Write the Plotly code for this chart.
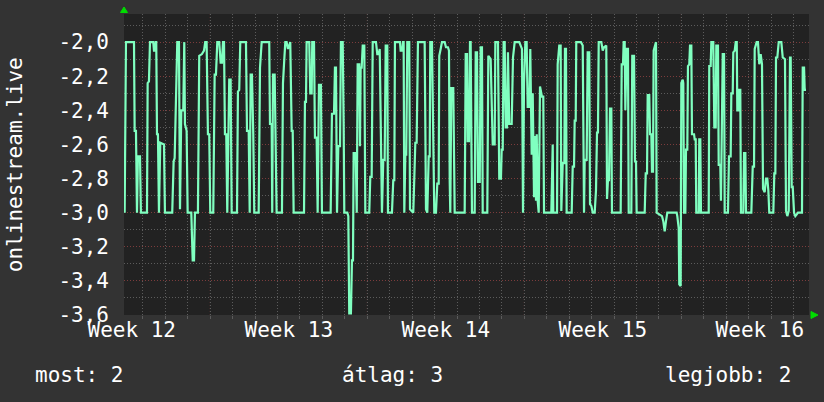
import plotly.graph_objects as go

# time in hours relative to Monday 00:00 of week 13; value of the series
week12_hours = [-91.6, -90.2, -81.6, -80.9, -79.5, -78.4, -77.4, -75.2, -74.2, -67.7, -67.0, -65.6, -64.5,
                -61.0, -60.2, -59.2, -58.4, -57.8, -57.0, -56.0, -54.9, -53.5, -49.5, -48.5, -40.7, -39.2,
                -38.1, -36.4, -35.3, -33.5, -32.4, -31.0, -28.9, -27.8, -27.1, -25.3, -24.2, -20.3, -18.8,
                -17.4, -16.4, -13.2, -11.8, -8.9, -6.7, -5.4, -3.9, -2.5, -1.1]
week12_values = [-3.0, -2.0, -2.0, -2.52, -2.52, -3.0, -2.67, -2.67, -3.0, -3.0, -2.24, -2.23, -2.0,
                 -2.0, -2.05, -2.05, -2.0, -2.0, -2.54, -2.54, -3.0, -2.59, -2.6, -3.0, -3.0, -2.7,
                 -2.68, -2.22, -2.0, -2.0, -2.98, -2.4, -2.4, -2.0, -2.48, -2.52, -3.0, -3.0, -3.28,
                 -3.28, -3.0, -3.0, -2.08, -2.07, -2.05, -2.0, -2.0, -2.54, -2.54]

week13_hours = [0.0, 3.2, 4.7, 6.1, 7.5, 9.6, 11.1, 12.5, 13.6, 14.7, 15.7, 17.1, 18.2, 20.3, 21.8, 22.9,
                28.6, 29.6, 31.0, 32.1, 38.2, 39.3, 41.1, 42.2, 43.2, 44.6, 46.0, 47.1, 51.8, 53.2, 55.0,
                63.1, 63.9, 65.7, 66.3, 67.1, 68.9, 70.0, 71.0, 76.7, 77.8, 79.2, 80.3, 81.7, 83.1, 84.5,
                85.6, 87.1, 88.2, 89.2, 100.3, 101.3, 102.4, 103.1, 105.9, 107.0, 108.5, 109.1, 111.0,
                112.0, 113.8, 114.9, 116.3, 118.4, 119.5, 128.8, 130.2, 132.4, 133.4, 134.5, 135.6,
                137.0, 138.8, 139.8, 141.7, 142.7, 143.4, 146.6, 147.7, 148.7, 150.5, 151.6, 152.7,
                153.4, 155.6, 156.7, 157.7, 159.4, 160.2, 160.9, 162.0, 163.1, 164.8, 165.9]
week13_values = [-3.0, -3.0, -2.19, -2.19, -2.0, -2.0, -2.12, -2.12, -2.0, -2.0, -2.54, -2.54, -3.0, -2.22,
                 -2.22, -3.0, -3.0, -2.29, -2.28, -2.0, -2.0, -2.52, -2.52, -3.0, -2.19, -2.19, -2.54,
                 -3.0, -3.0, -2.15, -2.0, -2.0, -2.48, -2.48, -3.0, -2.19, -2.19, -2.52, -3.0, -3.0,
                 -2.24, -2.1, -2.0, -2.0, -2.04, -2.02, -2.0, -2.52, -2.52, -3.0, -3.0, -2.35, -2.35,
                 -2.0, -2.0, -2.3, -2.3, -2.0, -2.0, -2.56, -2.56, -3.0, -2.25, -2.25, -3.0, -3.0,
                 -2.42, -2.42, -2.15, -2.15, -3.0, -2.61, -2.61, -2.0, -2.0, -2.47, -3.0, -3.0, -3.02,
                 -3.59, -3.59, -3.28, -3.28, -2.65, -2.65, -3.0, -2.13, -2.13, -2.61, -2.15, -2.15,
                 -2.02, -2.02, -3.0]

week14_hours = [170.1, 171.2, 172.7, 173.8, 177.3, 178.7, 180.2, 181.3, 182.6, 183.7, 185.1, 186.6, 187.7,
                189.4, 190.1, 194.4, 195.8, 196.9, 197.6, 203.0, 203.7, 205.4, 206.2, 206.9, 207.6,
                208.7, 209.7, 210.8, 212.9, 213.7, 217.2, 219.4, 220.8, 222.2, 229.4, 230.8, 232.2,
                233.7, 234.8, 235.4, 237.2, 238.6, 239.7, 241.5, 242.9, 244.4, 245.0, 246.5, 247.9,
                250.8, 252.2, 254.3, 255.4, 256.2, 256.8, 257.9, 260.0, 261.5, 272.2, 273.3, 274.7,
                275.4, 276.8, 277.9, 278.6, 280.0, 282.9, 284.0, 285.4, 286.4, 288.3, 289.3, 290.7,
                291.5, 296.4, 297.5, 300.0, 302.2, 304.3, 305.0, 307.8, 309.2, 311.0, 311.8, 312.9,
                313.9, 315.0, 316.1, 317.5, 318.5, 319.9, 322.5, 323.9, 325.7, 330.6, 333.5, 334.6,
                335.7]
week14_values = [-3.0, -2.79, -2.79, -2.0, -2.0, -2.07, -2.07, -2.04, -2.69, -3.0, -2.69, -2.69, -2.02,
                 -2.02, -3.0, -3.0, -2.81, -2.81, -2.0, -2.0, -2.05, -2.05, -2.0, -2.0, -3.0, -2.66,
                 -2.66, -2.0, -2.0, -2.98, -3.0, -2.59, -2.59, -2.0, -2.0, -2.98, -3.0, -2.67, -2.67,
                 -2.0, -2.0, -2.8, -3.0, -3.0, -2.83, -2.83, -2.08, -2.04, -2.0, -2.0, -2.03, -2.03,
                 -2.05, -2.82, -3.0, -2.27, -2.27, -3.0, -3.0, -2.07, -2.07, -2.58, -2.58, -2.0, -2.0,
                 -3.0, -3.0, -2.06, -2.06, -2.82, -2.82, -2.03, -2.03, -3.0, -3.0, -2.08, -2.1, -2.6,
                 -2.6, -2.0, -2.0, -2.8, -2.8, -2.63, -2.63, -2.0, -2.0, -2.5, -2.5, -2.06, -2.48,
                 -2.48, -2.09, -2.0, -2.0, -2.04, -3.0, -2.24]

week15_hours = [337.1, 338.5, 339.6, 341.3, 342.4, 343.9, 345.0, 346.4, 347.8, 348.5, 349.3, 350.3, 351.4,
                352.8, 354.9, 356.3, 357.1, 364.9, 366.4, 367.0, 371.0, 371.7, 373.4, 374.9, 375.6,
                377.1, 378.8, 379.5, 380.6, 381.3, 386.7, 387.8, 389.2, 389.9, 391.0, 391.6, 396.6,
                398.5, 399.9, 400.6, 402.7, 403.8, 405.5, 406.3, 407.7, 409.2, 411.3, 412.7, 413.8,
                414.8, 415.6, 418.4, 419.9, 421.3, 422.7, 423.7, 424.5, 425.5, 426.6, 427.7, 429.1,
                429.8, 439.1, 440.2, 441.6, 442.3, 443.4, 444.1, 445.5, 446.9, 447.7, 450.5, 451.5,
                453.4, 454.4, 455.5, 456.2, 464.8, 465.9, 467.3, 468.0, 469.7, 470.5, 471.9, 472.6,
                473.7, 474.4, 475.8, 476.9, 477.6, 481.2, 483.3, 484.7, 486.2, 487.6, 489.0, 498.3,
                499.0, 499.7, 501.2, 501.8, 503.3]
week15_values = [-2.0, -2.0, -2.38, -2.38, -2.04, -2.66, -2.3, -2.91, -2.55, -2.93, -2.54, -2.93, -3.0,
                 -2.26, -2.32, -2.32, -3.0, -3.0, -2.6, -3.0, -3.0, -2.13, -2.02, -2.02, -2.99, -2.71,
                 -2.71, -2.04, -2.04, -3.0, -3.0, -2.73, -2.73, -2.46, -2.46, -2.0, -2.0, -2.02, -3.0,
                 -2.69, -2.69, -2.06, -2.06, -2.95, -2.96, -3.0, -3.0, -2.87, -2.53, -2.53, -2.0, -2.0,
                 -2.05, -2.03, -2.02, -2.02, -2.92, -2.81, -2.81, -2.39, -2.39, -3.0, -3.0, -2.13,
                 -2.13, -2.0, -2.0, -2.4, -2.04, -2.04, -3.0, -3.0, -2.08, -2.08, -2.7, -2.7, -3.0,
                 -3.0, -2.77, -2.77, -2.31, -2.31, -2.54, -2.54, -2.76, -2.76, -2.05, -2.02, -2.0,
                 -3.0, -3.01, -3.02, -3.05, -3.11, -3.05, -3.0, -3.0, -3.0, -3.02, -3.09, -3.42, -3.43]

week16_hours = [504.0, 505.5, 506.1, 506.9, 508.3, 509.0, 510.4, 511.1, 512.5, 513.3, 514.7, 515.4, 517.6,
                518.3, 519.4, 520.0, 522.6, 523.2, 524.3, 525.0, 533.3, 533.9, 535.4, 536.1, 538.2,
                539.3, 540.8, 541.4, 543.2, 544.0, 545.7, 546.4, 548.3, 549.7, 550.4, 553.9, 555.0,
                556.8, 557.5, 559.0, 559.6, 561.1, 562.2, 563.3, 563.9, 565.4, 566.0, 567.1, 567.8,
                570.3, 571.1, 572.5, 573.2, 578.9, 580.4, 581.8, 582.5, 584.6, 586.0, 587.4, 588.9,
                590.3, 591.4, 593.2, 594.6, 596.0, 597.1, 598.1, 602.4, 603.5, 604.6, 605.3, 606.7,
                608.2, 611.0, 612.5, 614.9, 616.0, 617.4, 618.9, 620.3, 621.0, 622.1, 623.2, 624.6,
                626.0, 627.5, 628.8, 633.1, 633.9, 635.3, 636.0, 637.4]
week16_values = [-2.24, -2.22, -2.24, -3.0, -3.0, -2.63, -2.63, -2.14, -2.13, -2.02, -2.02, -2.54, -2.54,
                 -2.57, -2.57, -3.0, -3.0, -2.57, -2.57, -3.0, -3.0, -2.14, -2.14, -2.0, -2.0, -2.5,
                 -2.5, -2.02, -2.02, -2.72, -2.72, -2.93, -2.07, -2.07, -3.0, -3.0, -2.67, -2.67, -2.3,
                 -2.3, -2.06, -2.05, -2.0, -2.0, -2.4, -2.4, -2.28, -2.28, -3.0, -3.0, -2.65, -2.65,
                 -3.0, -3.0, -2.73, -2.73, -2.04, -2.0, -2.0, -2.13, -2.07, -2.13, -2.86, -2.88, -2.8,
                 -2.8, -2.87, -3.0, -3.0, -2.77, -2.77, -2.09, -2.09, -2.0, -2.0, -2.09, -2.1, -2.99,
                 -3.02, -2.99, -2.09, -2.09, -2.85, -2.85, -3.0, -3.02, -3.01, -3.0, -3.0, -2.15,
                 -2.15, -2.28, -2.28]

hours = week12_hours + week13_hours + week14_hours + week15_hours + week16_hours
values = week12_values + week13_values + week14_values + week15_values + week16_values

x_range = [-92.3, 640.6]
y_range = [-3.6, -1.835]
week_boundaries = [0, 168, 336, 504]
week_label_hours = [-84, 84, 252, 420, 588]
week_labels = ["Week 12", "Week 13", "Week 14", "Week 15", "Week 16"]
y_tick_values = [-2.0, -2.2, -2.4, -2.6, -2.8, -3.0, -3.2, -3.4, -3.6]
y_tick_labels = ["-2,0", "-2,2", "-2,4", "-2,6", "-2,8", "-3,0", "-3,2", "-3,4", "-3,6"]
y_title = "onlinestream.live"
legend_items = ["most: 2", "átlag: 3", "legjobb: 2"]

FONT = "DejaVu Sans Mono"
FS = 21
MINOR_GRID = "#5c5c5c"
MAJOR_GRID = "#7c3c3c"
DOT = "1px,2px"

fig = go.Figure()
fig.add_trace(go.Scatter(x=hours, y=values, mode="lines",
                         line=dict(color="#80ffc0", width=2.2), hoverinfo="skip"))

shapes = []
for w in week_boundaries:
    shapes.append(dict(type="line", xref="x", yref="paper", x0=w, x1=w, y0=0, y1=1,
                       line=dict(color=MAJOR_GRID, width=1, dash=DOT), layer="below"))
# axis arrows
shapes.append(dict(type="path", xref="paper", yref="paper",
                   path="M -0.0051,1.005 L 0.0051,1.005 L 0,1.0233 Z",
                   fillcolor="#00dd00", line=dict(color="#00dd00", width=1)))
shapes.append(dict(type="path", xref="paper", yref="paper",
                   path="M 1.0029,0.0116 L 1.0029,-0.0116 L 1.0131,0 Z",
                   fillcolor="#00dd00", line=dict(color="#00dd00", width=1)))

annotations = [
    dict(text=y_title, xref="paper", yref="paper", x=-0.159, y=0.498, textangle=-90,
         showarrow=False, xanchor="center", yanchor="middle",
         font=dict(family=FONT, size=FS, color="#ffffff")),
]
legend_x = [-0.1328, 0.3153, 0.7869]
for txt, lx in zip(legend_items, legend_x):
    annotations.append(dict(text=txt, xref="paper", yref="paper", x=lx, y=-0.1993,
                            xanchor="left", yanchor="middle", showarrow=False,
                            font=dict(family=FONT, size=FS, color="#ffffff")))

fig.update_layout(
    width=824, height=402,
    margin=dict(l=124, r=15, t=14, b=87, autoexpand=False),
    paper_bgcolor="#333333", plot_bgcolor="#222222",
    showlegend=False,
    font=dict(family=FONT, size=FS, color="#ffffff"),
    shapes=shapes, annotations=annotations,
    xaxis=dict(range=x_range, tickmode="array", tickvals=week_label_hours, ticktext=week_labels,
               showgrid=False, zeroline=False, ticks="", ticklabelstandoff=0, automargin=False,
               tickfont=dict(family=FONT, size=FS, color="#ffffff"),
               minor=dict(tick0=0, dtick=24, showgrid=True, gridcolor=MINOR_GRID, griddash=DOT,
                          gridwidth=1, ticks="outside", ticklen=3, tickcolor=MINOR_GRID)),
    yaxis=dict(range=y_range, tickmode="array", tickvals=y_tick_values, ticktext=y_tick_labels,
               showgrid=True, gridcolor=MAJOR_GRID, griddash=DOT, gridwidth=1,
               zeroline=False, ticks="", ticklabelstandoff=14, automargin=False,
               tickfont=dict(family=FONT, size=FS, color="#ffffff"),
               minor=dict(tick0=-2.0, dtick=0.1, showgrid=True, gridcolor=MINOR_GRID,
                          griddash=DOT, gridwidth=1)),
)

fig.write_html("out.html", config={"displayModeBar": False},
               post_script="document.body.style.margin='0';document.body.style.padding='0';"
                           "document.body.style.background='#333333';")
